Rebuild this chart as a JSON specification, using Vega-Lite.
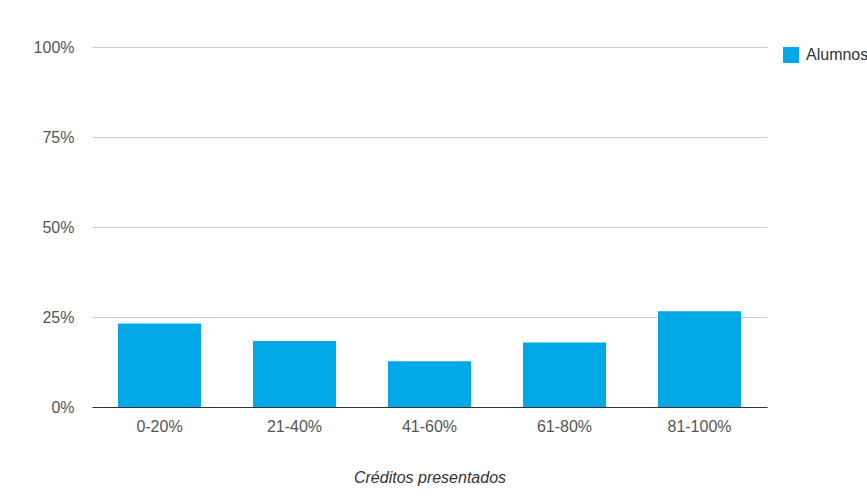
{
  "$schema": "https://vega.github.io/schema/vega-lite/v6.json",
  "autosize": {"type": "none"},
  "padding": {"left": 92, "top": 47, "right": 100, "bottom": 89},
  "width": 675,
  "height": 360,
  "background": "white",
  "config": {
    "font": "Liberation Sans",
    "view": {"stroke": null}
  },
  "data": {
    "values": [
      {"creditos": "0-20%", "valor": 0.232, "serie": "Alumnos"},
      {"creditos": "21-40%", "valor": 0.183, "serie": "Alumnos"},
      {"creditos": "41-60%", "valor": 0.127, "serie": "Alumnos"},
      {"creditos": "61-80%", "valor": 0.179, "serie": "Alumnos"},
      {"creditos": "81-100%", "valor": 0.266, "serie": "Alumnos"}
    ]
  },
  "mark": {"type": "bar"},
  "encoding": {
    "x": {
      "field": "creditos",
      "type": "nominal",
      "sort": null,
      "scale": {"paddingInner": 0.385, "paddingOuter": 0.1925},
      "axis": {
        "title": "Créditos presentados",
        "titleFont": "Liberation Sans",
        "titleFontStyle": "italic",
        "titleFontWeight": "normal",
        "titleFontSize": 16,
        "titleColor": "#333333",
        "titlePadding": 35,
        "labelAngle": 0,
        "labelFontSize": 16,
        "labelColor": "#555555",
        "labelPadding": 11,
        "ticks": false,
        "domainColor": "#333333",
        "domainWidth": 1
      }
    },
    "y": {
      "field": "valor",
      "type": "quantitative",
      "scale": {"domain": [0, 1]},
      "axis": {
        "title": null,
        "values": [0, 0.25, 0.5, 0.75, 1],
        "format": ".0%",
        "labelFontSize": 16,
        "labelColor": "#555555",
        "labelPadding": 18,
        "ticks": false,
        "domain": false,
        "gridColor": "#cccccc",
        "gridWidth": 1
      }
    },
    "color": {
      "field": "serie",
      "type": "nominal",
      "scale": {"range": ["#00a8e5"]},
      "legend": {
        "title": null,
        "orient": "right",
        "offset": 16,
        "symbolType": "square",
        "symbolSize": 256,
        "symbolStrokeWidth": 0,
        "labelFontSize": 16,
        "labelColor": "#333333",
        "labelOffset": 7
      }
    }
  }
}
